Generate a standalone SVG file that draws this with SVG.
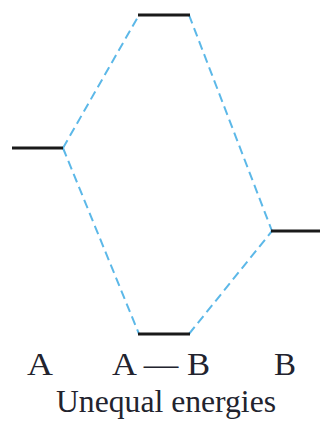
<svg xmlns="http://www.w3.org/2000/svg" width="320" height="422" viewBox="0 0 320 422">
<style>
.level{stroke:#1a1a1a;stroke-width:3.2;stroke-linecap:butt}
.conn{stroke:#5cb8e8;stroke-width:2;stroke-dasharray:9 5;fill:none}
.lbl{font-family:"Liberation Serif","Times New Roman",serif;font-size:32px;fill:#22232e}
</style>
<rect width="320" height="422" fill="#fff"/>
<g id="connectors">
<line class="conn" x1="63" y1="148" x2="139" y2="15"/>
<line class="conn" x1="63" y1="148" x2="139" y2="334"/>
<line class="conn" x1="189" y1="15" x2="272" y2="231"/>
<line class="conn" x1="189" y1="334" x2="272" y2="231"/>
</g>
<g id="levelA"><line class="level" x1="12" y1="148" x2="63" y2="148"/></g>
<g id="levelAB_anti"><line class="level" x1="138" y1="15" x2="190" y2="15"/></g>
<g id="levelAB_bond"><line class="level" x1="138" y1="334" x2="190" y2="334"/></g>
<g id="levelB"><line class="level" x1="271" y1="231" x2="320" y2="231"/></g>
<g id="labels">
<text class="lbl" x="27" y="375" textLength="26" lengthAdjust="spacingAndGlyphs">A</text>
<text class="lbl" x="112" y="375" textLength="98" lengthAdjust="spacingAndGlyphs">A — B</text>
<text class="lbl" x="274" y="375" textLength="22" lengthAdjust="spacingAndGlyphs">B</text>
<text class="lbl" x="56" y="412" textLength="220" lengthAdjust="spacingAndGlyphs">Unequal energies</text>
</g>
</svg>
